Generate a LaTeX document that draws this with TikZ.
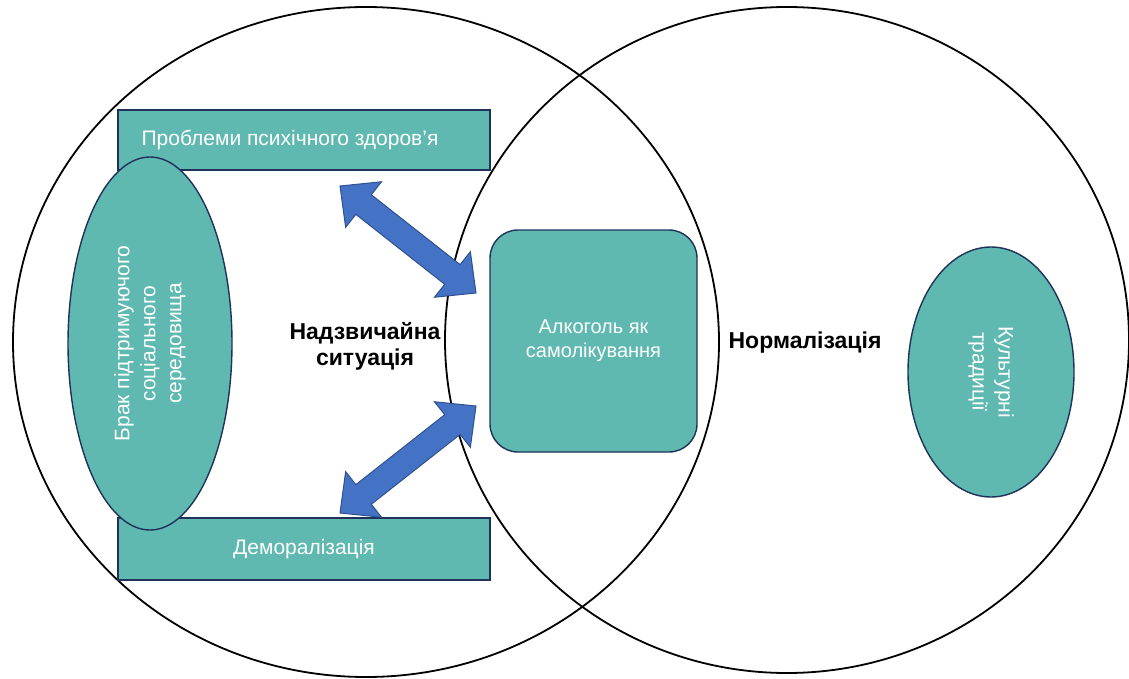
\documentclass[tikz,border=0pt]{standalone}
\usepackage{fontspec}
\setmainfont{Liberation Sans}
\usetikzlibrary{shapes.geometric,calc}
\definecolor{teal1}{RGB}{95,185,176}
\definecolor{navy1}{RGB}{31,50,90}
\definecolor{arrowfill}{RGB}{68,114,196}
\definecolor{arrowline}{RGB}{47,82,143}
\tikzset{
  ring/.style={draw=black, line width=1.8pt},
  tealbox/.style={draw=navy1, line width=1.4pt, fill=teal1, text=white, font=\fontsize{21}{26}\selectfont, inner sep=0pt, align=center},
  tealoval/.style={tealbox, ellipse},
  blockarrow/.style={draw=arrowline, line width=1pt, fill=arrowfill, line join=miter},
  biglabel/.style={font=\bfseries\fontsize{23}{26}\selectfont, text=black, align=center}
}
\newcommand\dblarrow[2]{%
  \draw[blockarrow] let \p1=(#1), \p2=(#2), \n1={atan2(\y2-\y1,\x2-\x1)} in
   (#1) -- ($(#1)+(\n1:30pt)+(\n1+90:29pt)$) -- ($(#1)+(\n1:30pt)+(\n1+90:12.5pt)$)
   -- ($(#2)+(\n1+180:30pt)+(\n1+90:12.5pt)$) -- ($(#2)+(\n1+180:30pt)+(\n1+90:29pt)$)
   -- (#2) -- ($(#2)+(\n1+180:30pt)+(\n1-90:29pt)$) -- ($(#2)+(\n1+180:30pt)+(\n1-90:12.5pt)$)
   -- ($(#1)+(\n1:30pt)+(\n1-90:12.5pt)$) -- ($(#1)+(\n1:30pt)+(\n1-90:29pt)$) -- cycle;}
\begin{document}
\begin{tikzpicture}[x=1pt,y=-1pt]
\useasboundingbox (0,0) rectangle (1129,679);
% big circles
\draw[ring] (366,342) ellipse [x radius=353, y radius=335];
\draw[ring] (787,340) ellipse [x radius=342, y radius=333];
% boxes
\node[tealbox, minimum width=372, minimum height=60] (top) at (304,140) {Проблеми психічного здоров’я\hspace{28pt}};
\node[tealbox, minimum width=372, minimum height=62] (bottom) at (304,549) {Деморалізація};
\node[tealoval, rotate=90, minimum width=373, minimum height=164] (brak) at (150,343.5)
  {Брак підтримуючого\\соціального\\середовища};
\node[tealbox, rounded corners=28pt, minimum width=207, minimum height=222, font=\fontsize{20}{24}\selectfont] (alc) at (593.5,341)
  {Алкоголь як\\самолікування};
\node[tealoval, rotate=-90, minimum width=250, minimum height=166] (cult) at (991,372)
  {Культурні\\традиції};
% arrows
\coordinate (a1) at (340,186);
\coordinate (a2) at (476,293);
\coordinate (b1) at (340,513);
\coordinate (b2) at (476,406);
\dblarrow{a1}{a2}
\dblarrow{b1}{b2}
% labels
\node[biglabel] (emer) at (365,346) {Надзвичайна\\ситуація};
\node[biglabel] (norm) at (805,343) {Нормалізація};
\end{tikzpicture}
\end{document}
